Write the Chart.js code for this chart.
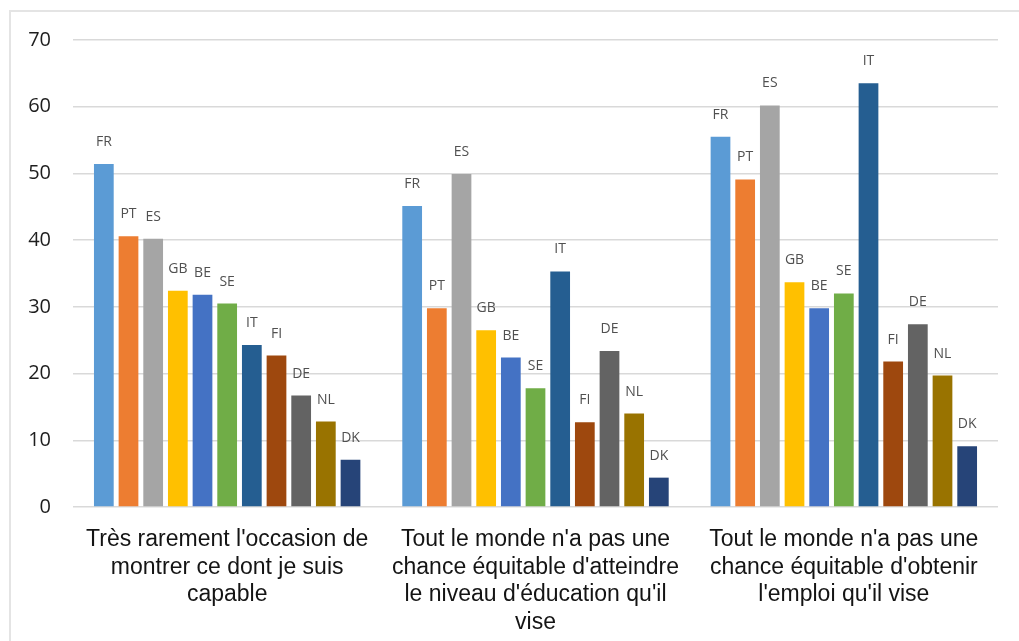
<!DOCTYPE html>
<html>
<head>
<meta charset="utf-8">
<script src="https://cdn.jsdelivr.net/npm/chart.js@4.4.1/dist/chart.umd.min.js"></script>
<style>
  html, body { margin: 0; padding: 0; background: #ffffff; overflow: hidden; }
  #wrap { position: relative; width: 1019px; height: 641px; }
  #frame {
    position: absolute; left: 9px; top: 10px; width: 1100px; height: 700px;
    border-left: 2px solid #e4e4e4; border-top: 2px solid #e4e4e4;
    box-sizing: border-box; pointer-events: none;
  }
  canvas { position: absolute; left: 0; top: 0; }
</style>
</head>
<body>
<div id="wrap">
  <div id="frame"></div>
  <canvas id="chart" width="1019" height="641"></canvas>
</div>
<script>
// Survey statements (x axis), one multi-line label each
const categories = [
  ["Très rarement l'occasion de", "montrer ce dont je suis", "capable"],
  ["Tout le monde n'a pas une", "chance équitable d'atteindre", "le niveau d'éducation qu'il", "vise"],
  ["Tout le monde n'a pas une", "chance équitable d'obtenir", "l'emploi qu'il vise"]
];

// Countries, in drawing order
const countries = ["FR", "PT", "ES", "GB", "BE", "SE", "IT", "FI", "DE", "NL", "DK"];

// Share of respondents (%) per statement, one array per country
const FR = [51.4, 45.1, 55.5];
const PT = [40.6, 29.8, 49.1];
const ES = [40.2, 49.9, 60.2];
const GB = [32.4, 26.5, 33.7];
const BE = [31.8, 22.4, 29.8];
const SE = [30.5, 17.8, 32.0];
const IT = [24.3, 35.3, 63.5];
const FI = [22.7, 12.7, 21.8];
const DE = [16.7, 23.4, 27.4];
const NL = [12.8, 14.0, 19.7];
const DK = [7.1, 4.4, 9.1];

// Y axis ticks
const yTicks = [0, 10, 20, 30, 40, 50, 60, 70];

const seriesValues = [FR, PT, ES, GB, BE, SE, IT, FI, DE, NL, DK];
const palette = ["#5B9BD5", "#ED7D31", "#A5A5A5", "#FFC000", "#4472C4", "#70AD47",
                 "#255E91", "#9E480E", "#636363", "#997300", "#264478"];

const datasets = countries.map((code, i) => ({
  label: code,
  data: seriesValues[i],
  backgroundColor: palette[i],
  borderWidth: 0,
  barPercentage: 0.8,
  categoryPercentage: 0.88
}));

// Writes the country code above each bar
const codeLabels = {
  id: 'codeLabels',
  afterDatasetsDraw(chart) {
    const ctx = chart.ctx;
    ctx.save();
    ctx.font = '14px "Open Sans", "Liberation Sans", sans-serif';
    ctx.fillStyle = '#505050';
    ctx.textAlign = 'center';
    ctx.textBaseline = 'middle';
    chart.data.datasets.forEach((ds, di) => {
      const meta = chart.getDatasetMeta(di);
      meta.data.forEach(bar => {
        ctx.fillText(ds.label, bar.x, bar.y - 22);
      });
    });
    ctx.restore();
  }
};

new Chart(document.getElementById('chart'), {
  type: 'bar',
  data: { labels: categories, datasets },
  plugins: [codeLabels],
  options: {
    responsive: false,
    animation: false,
    devicePixelRatio: 1,
    layout: { padding: { left: 10, top: 40, right: 21, bottom: 0 } },
    plugins: {
      legend: { display: false },
      tooltip: { enabled: false }
    },
    scales: {
      x: {
        grid: { display: false },
        border: { display: false },
        ticks: {
          color: '#141414',
          font: { family: '"Liberation Sans", Arial, sans-serif', size: 23, lineHeight: 1.2 },
          padding: 11,
          maxRotation: 0,
          autoSkip: false
        },
        afterFit(scale) { scale.height = 134; }
      },
      y: {
        min: 0,
        max: 70,
        afterBuildTicks(scale) { scale.ticks = yTicks.map(v => ({ value: v })); },
        grid: { color: '#d9d9d9', lineWidth: 1.5, drawTicks: false },
        border: { display: false },
        ticks: {
          color: '#1e1e1e',
          font: { family: '"Open Sans", "Liberation Sans", sans-serif', size: 20 },
          padding: 22
        },
        afterFit(scale) { scale.width = 63; }
      }
    }
  }
});
</script>
</body>
</html>
